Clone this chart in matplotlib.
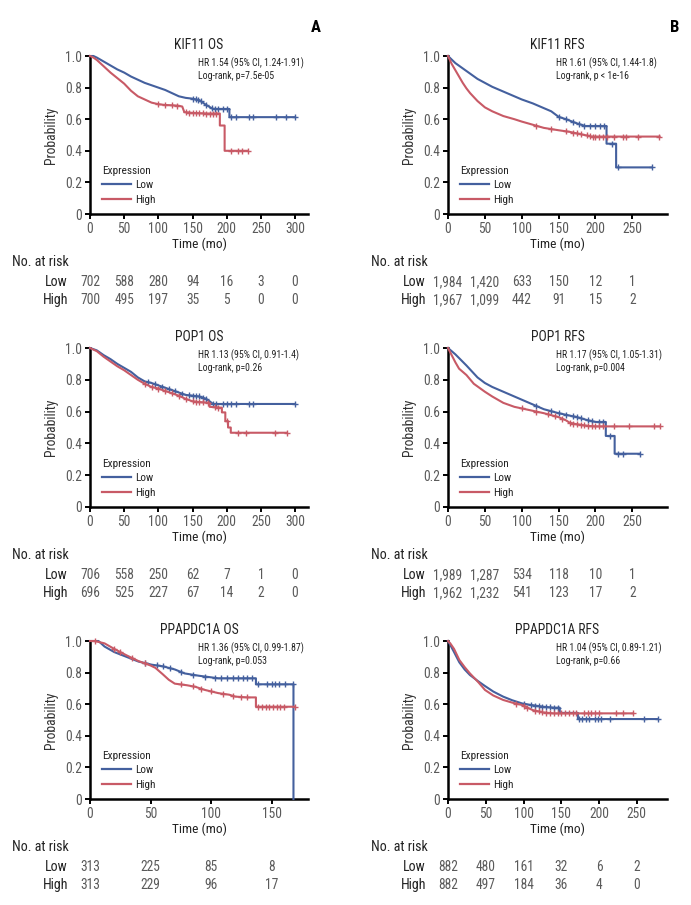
import numpy as np
import matplotlib
matplotlib.use("Agg")
import matplotlib.pyplot as plt
import matplotlib.transforms as mtransforms
from matplotlib import font_manager
from matplotlib.lines import Line2D

# pick a narrow face if there is one, else Arial-like Liberation Sans
_names = {f.name for f in font_manager.fontManager.ttflist}
FONT = 'DejaVu Sans'
for cand in ['Liberation Sans Narrow', 'Roboto Condensed', 'Open Sans Condensed', 'Liberation Sans']:
    if cand in _names:
        FONT = cand
        break
K = 1.12 if ('Narrow' in FONT or 'Condensed' in FONT) else 1.0
plt.rcParams['font.family'] = [FONT, 'DejaVu Sans']

W, H = 691, 905
BLUE = '#44609e'
RED = '#c85a66'
GREY = '#5a5a5a'
DARK = '#222222'

# ---- KIF11 OS ----
kif11_os_low_t = [0, 5, 10, 20, 30, 40, 50, 60, 70, 80, 90, 100, 110, 120, 130, 140, 150, 160, 165, 170, 180, 190, 204, 204, 300]
kif11_os_low_s = [1.0, 1.0, 0.99, 0.965, 0.94, 0.915, 0.895, 0.87, 0.85, 0.83, 0.815, 0.80, 0.785, 0.765, 0.745, 0.735, 0.73, 0.72, 0.705, 0.69, 0.665, 0.665, 0.665, 0.613, 0.613]
kif11_os_low_cens = [150, 155, 158, 162, 170, 178, 183, 188, 194, 201, 207, 213, 232, 239, 272, 287, 300]
kif11_os_high_t = [0, 5, 10, 20, 30, 40, 50, 60, 70, 80, 90, 100, 110, 120, 130, 135, 138, 150, 160, 170, 190, 190, 197, 197, 230]
kif11_os_high_s = [1.0, 0.99, 0.975, 0.935, 0.895, 0.86, 0.825, 0.78, 0.745, 0.725, 0.705, 0.695, 0.69, 0.688, 0.685, 0.68, 0.645, 0.64, 0.638, 0.636, 0.636, 0.56, 0.56, 0.40, 0.40]
kif11_os_high_cens = [100, 110, 120, 128, 140, 145, 150, 155, 160, 165, 170, 175, 180, 185, 207, 216, 223, 231]
kif11_os_ticks = [0, 50, 100, 150, 200, 250, 300]
kif11_os_risk_low = [702, 588, 280, 94, 16, 3, 0]
kif11_os_risk_high = [700, 495, 197, 35, 5, 0, 0]

# ---- KIF11 RFS ----
kif11_rfs_low_t = [0, 10, 25, 40, 50, 60, 75, 90, 100, 115, 130, 140, 150, 160, 174, 186, 215, 215, 228, 228, 276]
kif11_rfs_low_s = [1.0, 0.955, 0.905, 0.855, 0.83, 0.805, 0.775, 0.745, 0.725, 0.70, 0.67, 0.65, 0.615, 0.60, 0.575, 0.557, 0.557, 0.445, 0.445, 0.295, 0.295]
kif11_rfs_low_cens = [150, 160, 170, 178, 185, 192, 200, 206, 212, 222, 231, 276]
kif11_rfs_high_t = [0, 5, 10, 15, 20, 25, 30, 40, 50, 60, 75, 90, 100, 115, 130, 150, 165, 175, 185, 195, 287]
kif11_rfs_high_s = [1.0, 0.95, 0.91, 0.87, 0.83, 0.795, 0.765, 0.715, 0.675, 0.65, 0.62, 0.60, 0.585, 0.565, 0.545, 0.53, 0.52, 0.51, 0.50, 0.49, 0.49]
kif11_rfs_high_cens = [120, 140, 160, 170, 175, 180, 188, 192, 196, 200, 205, 210, 215, 225, 238, 242, 258, 286]
rfs_ticks = [0, 50, 100, 150, 200, 250]
kif11_rfs_risk_low = [1984, 1420, 633, 150, 12, 1]
kif11_rfs_risk_high = [1967, 1099, 442, 91, 15, 2]

# ---- POP1 OS ----
pop1_os_low_t = [0, 10, 20, 30, 40, 50, 60, 70, 80, 90, 100, 110, 120, 130, 140, 150, 160, 170, 175, 180, 300]
pop1_os_low_s = [1.0, 0.985, 0.955, 0.93, 0.90, 0.875, 0.85, 0.815, 0.79, 0.78, 0.765, 0.75, 0.735, 0.72, 0.705, 0.70, 0.695, 0.68, 0.665, 0.648, 0.648]
pop1_os_low_cens = [85, 95, 105, 115, 125, 135, 145, 150, 155, 160, 165, 170, 180, 185, 194, 200, 206, 213, 232, 238, 300]
pop1_os_high_t = [0, 10, 20, 30, 40, 50, 60, 70, 80, 90, 100, 110, 120, 130, 140, 150, 160, 175, 175, 190, 193, 193, 198, 198, 202, 202, 206, 206, 288]
pop1_os_high_s = [1.0, 0.98, 0.945, 0.915, 0.885, 0.86, 0.83, 0.80, 0.775, 0.755, 0.745, 0.73, 0.715, 0.70, 0.68, 0.665, 0.66, 0.655, 0.63, 0.625, 0.625, 0.595, 0.595, 0.54, 0.54, 0.50, 0.50, 0.467, 0.467]
pop1_os_high_cens = [80, 90, 100, 110, 120, 130, 140, 150, 155, 160, 165, 172, 183, 188, 200, 216, 228, 271, 288]
pop1_os_risk_low = [706, 558, 250, 62, 7, 1, 0]
pop1_os_risk_high = [696, 525, 227, 67, 14, 2, 0]

# ---- POP1 RFS ----
pop1_rfs_low_t = [0, 10, 25, 40, 50, 60, 75, 90, 100, 115, 130, 150, 165, 175, 190, 200, 214, 214, 226, 226, 260]
pop1_rfs_low_s = [1.0, 0.96, 0.89, 0.815, 0.78, 0.755, 0.725, 0.695, 0.675, 0.645, 0.615, 0.59, 0.575, 0.565, 0.545, 0.535, 0.535, 0.447, 0.447, 0.335, 0.335]
pop1_rfs_low_cens = [120, 140, 150, 160, 170, 175, 180, 190, 195, 205, 210, 220, 230, 237, 260]
pop1_rfs_high_t = [0, 5, 10, 15, 25, 35, 50, 60, 75, 90, 100, 115, 130, 150, 160, 165, 175, 190, 200, 287]
pop1_rfs_high_s = [1.0, 0.955, 0.91, 0.87, 0.83, 0.775, 0.725, 0.695, 0.655, 0.63, 0.62, 0.605, 0.59, 0.565, 0.545, 0.53, 0.52, 0.51, 0.507, 0.507]
pop1_rfs_high_cens = [100, 120, 135, 145, 155, 165, 170, 175, 180, 185, 190, 195, 200, 205, 210, 225, 245, 280, 287]
pop1_rfs_risk_low = [1989, 1287, 534, 118, 10, 1]
pop1_rfs_risk_high = [1962, 1232, 541, 123, 17, 2]

# ---- PPAPDC1A OS ----
ppa_os_low_t = [0, 7, 12, 20, 30, 40, 51, 60, 70, 78, 90, 100, 106, 137, 137, 168, 168]
ppa_os_low_s = [1.0, 1.0, 0.965, 0.93, 0.90, 0.87, 0.85, 0.84, 0.82, 0.795, 0.78, 0.77, 0.764, 0.764, 0.726, 0.726, 0.0]
ppa_os_low_cens = [45, 55, 60, 66, 75, 85, 95, 103, 108, 113, 118, 122, 126, 130, 134, 139, 146, 150, 153, 156, 161, 168]
ppa_os_high_t = [0, 4, 12, 20, 30, 40, 50, 54, 60, 65, 70, 80, 87, 95, 106, 115, 120, 130, 137, 137, 169]
ppa_os_high_s = [1.0, 1.0, 0.985, 0.95, 0.91, 0.873, 0.845, 0.83, 0.79, 0.755, 0.73, 0.72, 0.71, 0.69, 0.67, 0.66, 0.648, 0.643, 0.643, 0.584, 0.584]
ppa_os_high_cens = [4, 20, 25, 35, 45, 75, 85, 92, 100, 110, 118, 125, 130, 139, 142, 145, 148, 151, 154, 157, 160, 169]
ppa_os_ticks = [0, 50, 100, 150]
ppa_os_risk_low = [313, 225, 85, 8]
ppa_os_risk_high = [313, 229, 96, 17]

# ---- PPAPDC1A RFS ----
ppa_rfs_low_t = [0, 3, 8, 15, 22, 29, 40, 49, 60, 73, 85, 98, 110, 126, 140, 148, 148, 172, 172, 278]
ppa_rfs_low_s = [1.0, 0.975, 0.93, 0.865, 0.82, 0.785, 0.745, 0.715, 0.68, 0.648, 0.625, 0.605, 0.595, 0.584, 0.578, 0.578, 0.545, 0.545, 0.506, 0.506]
ppa_rfs_low_cens = [100, 110, 115, 120, 125, 130, 135, 140, 145, 174, 177, 183, 187, 194, 198, 203, 214, 260, 278]
ppa_rfs_high_t = [0, 3, 8, 15, 22, 29, 40, 49, 60, 73, 85, 98, 112, 126, 140, 245]
ppa_rfs_high_s = [1.0, 0.985, 0.95, 0.88, 0.835, 0.795, 0.74, 0.69, 0.655, 0.627, 0.61, 0.595, 0.563, 0.548, 0.542, 0.542]
ppa_rfs_high_cens = [90, 100, 105, 115, 120, 125, 130, 135, 140, 145, 150, 155, 160, 165, 170, 180, 185, 190, 195, 200, 222, 232, 245]
ppa_rfs_risk_low = [882, 480, 161, 32, 6, 2]
ppa_rfs_risk_high = [882, 497, 184, 36, 4, 0]


fig = plt.figure(figsize=(W / 100, H / 100), dpi=100)


def add_axes_px(x0, y0, x1, y1):
    return fig.add_axes([x0 / W, 1 - y1 / H, (x1 - x0) / W, (y1 - y0) / H])


def draw_curve(ax, t, s, cens, color):
    t = np.asarray(t, float)
    s = np.asarray(s, float)
    ax.plot(t, s, color=color, lw=1.5, clip_on=False, zorder=3)
    c = np.asarray(cens, float)
    cy = np.interp(c - 1e-6, t, s)
    ax.plot(c, cy, ls='none', marker='+', ms=4.5, mew=1.0, color=color,
            clip_on=False, zorder=3)


def panel(box, title, hr, p, low, high, ticks, xmax, risk_low, risk_high,
          table_x):
    x0, y0, x1, y1 = box
    hpx = y1 - y0
    ax = add_axes_px(*box)
    draw_curve(ax, *low, BLUE)
    draw_curve(ax, *high, RED)
    ax.set_xlim(0, xmax)
    ax.set_ylim(0, 1.0)
    ax.set_xticks(ticks)
    ax.set_yticks([0, 0.2, 0.4, 0.6, 0.8, 1.0],
                  ['0', '0.2', '0.4', '0.6', '0.8', '1.0'])
    for sp in ['top', 'right']:
        ax.spines[sp].set_visible(False)
    for sp in ['left', 'bottom']:
        ax.spines[sp].set_linewidth(1.8)
    ax.tick_params(direction='out', length=3.5, width=1.4, color='black',
                   labelcolor=GREY, labelsize=8.7 * K, pad=2)
    ax.set_title(title, fontsize=8.8 * K, color=DARK, pad=5)
    ax.text(0.495, 1 - 7 / hpx, hr, transform=ax.transAxes, fontsize=6.3 * K,
            color=DARK, va='center', ha='left')
    ax.text(0.495, 1 - 20 / hpx, p, transform=ax.transAxes, fontsize=6.3 * K,
            color=DARK, va='center', ha='left')
    ax.set_xlabel('Time (mo)', fontsize=8.6 * K, color=DARK)
    ax.xaxis.label.set_va('center')
    ax.xaxis.set_label_coords(0.5, -30 / hpx)
    ax.set_ylabel('Probability', fontsize=8.8 * K, color='#333333')
    ax.yaxis.label.set_va('center')
    ax.yaxis.set_label_coords(-39 / (x1 - x0), 0.5)

    handles = [Line2D([], [], color=BLUE, lw=1.6), Line2D([], [], color=RED, lw=1.6)]
    leg = ax.legend(handles, ['Low', 'High'], title='Expression',
                    loc='lower left', bbox_to_anchor=(12 / (x1 - x0), 9 / hpx),
                    frameon=False, alignment='left', fontsize=7.2 * K,
                    title_fontsize=7.2 * K, handlelength=2.6, handletextpad=0.4,
                    labelspacing=0.42, borderaxespad=0, borderpad=0)
    for txt in leg.get_texts():
        txt.set_color(DARK)
    leg.get_title().set_color(DARK)

    # number at risk table
    fig.text(table_x[0] / W, 1 - (y1 + 48) / H, 'No. at risk', fontsize=9 * K,
             color=DARK, ha='left', va='center')
    tr = mtransforms.blended_transform_factory(ax.transData, fig.transFigure)
    for lab, vals, dy in [('Low', risk_low, 68), ('High', risk_high, 86)]:
        yf = 1 - (y1 + dy) / H
        fig.text(table_x[1] / W, yf, lab, fontsize=9 * K, color=DARK,
                 ha='right', va='center')
        for tk, v in zip(ticks, vals):
            ax.text(tk, yf, f'{v:,}', transform=tr, fontsize=8.7 * K, color=GREY,
                    ha='center', va='center', clip_on=False)
    return ax


A_x = (12, 68)
B_x = (371, 426)

panel((90, 56, 308, 214), 'KIF11 OS', 'HR 1.54 (95% CI, 1.24-1.91)',
      'Log-rank, p=7.5e-05',
      (kif11_os_low_t, kif11_os_low_s, kif11_os_low_cens),
      (kif11_os_high_t, kif11_os_high_s, kif11_os_high_cens),
      kif11_os_ticks, 319, kif11_os_risk_low, kif11_os_risk_high, A_x)

panel((448, 56, 667, 214), 'KIF11 RFS', 'HR 1.61 (95% CI, 1.44-1.8)',
      'Log-rank, p < 1e-16',
      (kif11_rfs_low_t, kif11_rfs_low_s, kif11_rfs_low_cens),
      (kif11_rfs_high_t, kif11_rfs_high_s, kif11_rfs_high_cens),
      rfs_ticks, 297, kif11_rfs_risk_low, kif11_rfs_risk_high, B_x)

panel((90, 348, 308, 507), 'POP1 OS', 'HR 1.13 (95% CI, 0.91-1.4)',
      'Log-rank, p=0.26',
      (pop1_os_low_t, pop1_os_low_s, pop1_os_low_cens),
      (pop1_os_high_t, pop1_os_high_s, pop1_os_high_cens),
      kif11_os_ticks, 319, pop1_os_risk_low, pop1_os_risk_high, A_x)

panel((448, 348, 667, 507), 'POP1 RFS', 'HR 1.17 (95% CI, 1.05-1.31)',
      'Log-rank, p=0.004',
      (pop1_rfs_low_t, pop1_rfs_low_s, pop1_rfs_low_cens),
      (pop1_rfs_high_t, pop1_rfs_high_s, pop1_rfs_high_cens),
      rfs_ticks, 297, pop1_rfs_risk_low, pop1_rfs_risk_high, B_x)

panel((90, 641, 308, 799), 'PPAPDC1A OS', 'HR 1.36 (95% CI, 0.99-1.87)',
      'Log-rank, p=0.053',
      (ppa_os_low_t, ppa_os_low_s, ppa_os_low_cens),
      (ppa_os_high_t, ppa_os_high_s, ppa_os_high_cens),
      ppa_os_ticks, 180, ppa_os_risk_low, ppa_os_risk_high, A_x)

panel((448, 641, 667, 799), 'PPAPDC1A RFS', 'HR 1.04 (95% CI, 0.89-1.21)',
      'Log-rank, p=0.66',
      (ppa_rfs_low_t, ppa_rfs_low_s, ppa_rfs_low_cens),
      (ppa_rfs_high_t, ppa_rfs_high_s, ppa_rfs_high_cens),
      rfs_ticks, 290, ppa_rfs_risk_low, ppa_rfs_risk_high, B_x)

fig.text(316 / W, 1 - 27 / H, 'A', fontsize=12, fontweight='bold', ha='center', va='center')
fig.text(675 / W, 1 - 27 / H, 'B', fontsize=12, fontweight='bold', ha='center', va='center')

fig.savefig('out.png', dpi=100)
